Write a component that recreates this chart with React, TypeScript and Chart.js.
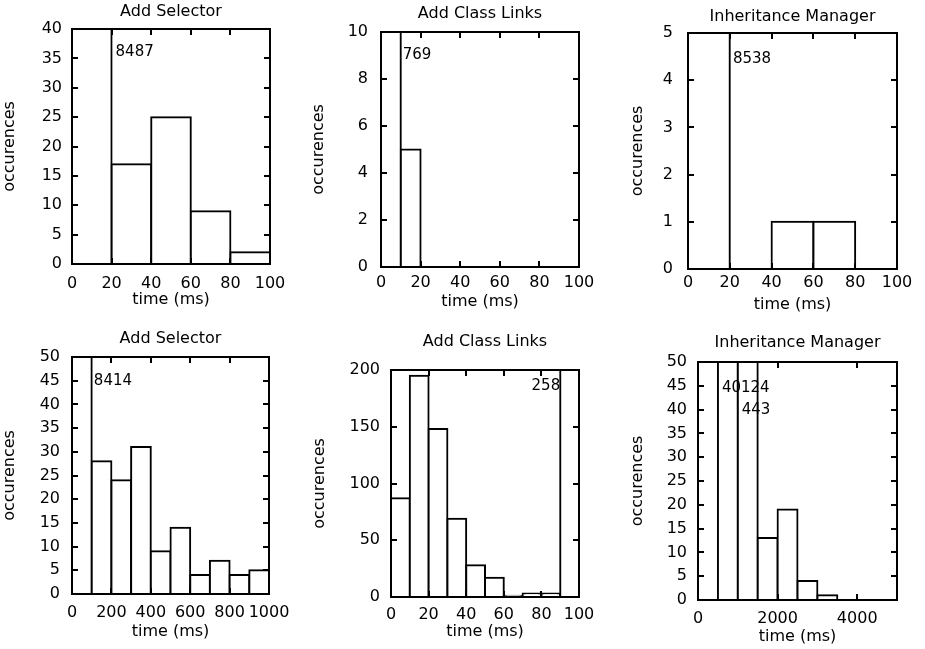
import React, { useEffect, useRef } from "react";
import { Chart, registerables } from "chart.js";

Chart.register(...registerables);

// ---------- DATA ----------
const panelTitles = [
  "Add Selector",
  "Add Class Links",
  "Inheritance Manager",
  "Add Selector",
  "Add Class Links",
  "Inheritance Manager",
];
const xAxisTitle = "time (ms)";
const yAxisTitle = "occurences";

// Top row (0-100 ms)
const selectorFastBins = [0, 20, 40, 60, 80];
const selectorFastCounts = [8487, 17, 25, 9, 2];
const classLinksFastBins = [0, 10, 20, 30, 40, 50, 60, 70, 80, 90];
const classLinksFastCounts = [769, 5, 0, 0, 0, 0, 0, 0, 0, 0];
const inheritFastBins = [0, 20, 40, 60, 80];
const inheritFastCounts = [8538, 0, 1, 1, 0];

// Bottom row
const selectorSlowBins = [0, 100, 200, 300, 400, 500, 600, 700, 800, 900];
const selectorSlowCounts = [8414, 28, 24, 31, 9, 14, 4, 7, 4, 5];
const classLinksSlowBins = [0, 10, 20, 30, 40, 50, 60, 70, 80, 90];
const classLinksSlowCounts = [87, 195, 148, 69, 28, 17, 1, 3, 3, 258];
const inheritSlowBins = [0, 500, 1000, 1500, 2000, 2500, 3000, 3500, 4000, 4500];
const inheritSlowCounts = [0, 40124, 443, 13, 19, 4, 1, 0, 0, 0];

// Axis ranges & ticks
const xTicks100 = [0, 20, 40, 60, 80, 100];
const xTicks1000 = [0, 200, 400, 600, 800, 1000];
const xTicks5000 = [0, 2000, 4000];
const xMaxes = [100, 100, 100, 1000, 100, 5000];
const yTicksSelFast = [0, 5, 10, 15, 20, 25, 30, 35, 40];
const yTicksLinksFast = [0, 2, 4, 6, 8, 10];
const yTicksInhFast = [0, 1, 2, 3, 4, 5];
const yTicksSelSlow = [0, 5, 10, 15, 20, 25, 30, 35, 40, 45, 50];
const yTicksLinksSlow = [0, 50, 100, 150, 200];
const yTicksInhSlow = [0, 5, 10, 15, 20, 25, 30, 35, 40, 45, 50];

// Off-scale count labels (text, x in data units, y in data units)
const labelTextsA = ["8487"];
const labelXA = [22];
const labelYA = [36];
const labelTextsB = ["769"];
const labelXB = [11];
const labelYB = [9];
const labelTextsC = ["8538"];
const labelXC = [21.5];
const labelYC = [4.45];
const labelTextsD = ["8414"];
const labelXD = [111];
const labelYD = [45];
const labelTextsE = ["258"];
const labelXE = [90];
const labelYE = [186];
const labelTextsF = ["40124", "443"];
const labelXF = [600, 1100];
const labelYF = [44.6, 39.9];

// ---------- LAYOUT (page pixels) ----------
const layouts = [
  { box: { x: 0, y: 0, w: 300, h: 320 }, plot: { l: 72, t: 29, r: 270, b: 264 }, titleY: 12, tickY: 284, xTitleY: 300, yTitleX: 10, yGap: 10, labelAlign: "left" },
  { box: { x: 300, y: 0, w: 310, h: 320 }, plot: { l: 381, t: 32, r: 579, b: 267 }, titleY: 14, tickY: 283, xTitleY: 302, yTitleX: 319, yGap: 13, labelAlign: "left" },
  { box: { x: 610, y: 0, w: 315, h: 320 }, plot: { l: 688, t: 33, r: 897, b: 269 }, titleY: 17, tickY: 283, xTitleY: 305, yTitleX: 638, yGap: 15, labelAlign: "left" },
  { box: { x: 0, y: 320, w: 300, h: 329 }, plot: { l: 72, t: 357, r: 269, b: 594 }, titleY: 339, tickY: 613, xTitleY: 632, yTitleX: 10, yGap: 12, labelAlign: "left" },
  { box: { x: 300, y: 320, w: 310, h: 329 }, plot: { l: 391, t: 370, r: 579, b: 597 }, titleY: 342, tickY: 615, xTitleY: 632, yTitleX: 320, yGap: 11, labelAlign: "right" },
  { box: { x: 610, y: 320, w: 315, h: 329 }, plot: { l: 698, t: 362, r: 897, b: 600 }, titleY: 343, tickY: 619, xTitleY: 637, yTitleX: 638, yGap: 11, labelAlign: "left" },
];

const FONT = "'DejaVu Sans', 'Liberation Sans', Arial, sans-serif";
const TITLE_SIZE = 16;
const TICK_SIZE = 16;
const LABEL_SIZE = 15;

const panels = [
  { bins: selectorFastBins, counts: selectorFastCounts, xTicks: xTicks100, yTicks: yTicksSelFast, texts: labelTextsA, lx: labelXA, ly: labelYA },
  { bins: classLinksFastBins, counts: classLinksFastCounts, xTicks: xTicks100, yTicks: yTicksLinksFast, texts: labelTextsB, lx: labelXB, ly: labelYB },
  { bins: inheritFastBins, counts: inheritFastCounts, xTicks: xTicks100, yTicks: yTicksInhFast, texts: labelTextsC, lx: labelXC, ly: labelYC },
  { bins: selectorSlowBins, counts: selectorSlowCounts, xTicks: xTicks1000, yTicks: yTicksSelSlow, texts: labelTextsD, lx: labelXD, ly: labelYD },
  { bins: classLinksSlowBins, counts: classLinksSlowCounts, xTicks: xTicks100, yTicks: yTicksLinksSlow, texts: labelTextsE, lx: labelXE, ly: labelYE },
  { bins: inheritSlowBins, counts: inheritSlowCounts, xTicks: xTicks5000, yTicks: yTicksInhSlow, texts: labelTextsF, lx: labelXF, ly: labelYF },
];

const framePlugin = {
  id: "gnuFrame",
  afterDatasetsDraw(chart: any) {
    const { ctx, chartArea: a, scales } = chart;
    const x = scales.x;
    const y = scales.y;
    ctx.save();
    ctx.strokeStyle = "#000";
    ctx.lineWidth = 2;
    ctx.strokeRect(a.left, a.top, a.right - a.left, a.bottom - a.top);
    const L = 6;
    ctx.beginPath();
    x.ticks.forEach((t: any) => {
      if (t.value <= x.min || t.value >= x.max) return;
      const px = Math.round(x.getPixelForValue(t.value));
      ctx.moveTo(px, a.bottom);
      ctx.lineTo(px, a.bottom - L);
      ctx.moveTo(px, a.top);
      ctx.lineTo(px, a.top + L);
    });
    y.ticks.forEach((t: any) => {
      if (t.value <= y.min || t.value >= y.max) return;
      const py = Math.round(y.getPixelForValue(t.value));
      ctx.moveTo(a.left, py);
      ctx.lineTo(a.left + L, py);
      ctx.moveTo(a.right, py);
      ctx.lineTo(a.right - L, py);
    });
    ctx.stroke();
    ctx.restore();
  },
};

function makeLabelPlugin(p: any, align: string) {
  return {
    id: "countLabels",
    afterDraw(chart: any) {
      const { ctx, scales } = chart;
      ctx.save();
      ctx.fillStyle = "#000";
      ctx.font = `${LABEL_SIZE}px ${FONT}`;
      ctx.textBaseline = "middle";
      ctx.textAlign = align;
      p.texts.forEach((t: string, i: number) => {
        ctx.fillText(t, scales.x.getPixelForValue(p.lx[i]), scales.y.getPixelForValue(p.ly[i]));
      });
      ctx.restore();
    },
  };
}

const plainNumber = (v: any) => String(v);

function makeConfig(i: number) {
  const p = panels[i];
  const L = layouts[i];
  const binW = p.bins[1] - p.bins[0];
  const titleLH = TITLE_SIZE * 1.2;
  const tickLH = TICK_SIZE * 1.2;
  const bottomEdge = L.box.y + L.box.h;
  return {
    type: "bar",
    data: {
      datasets: [
        {
          data: p.bins.map((b: number, k: number) => ({ x: b + binW / 2, y: p.counts[k] })),
          backgroundColor: "#ffffff",
          borderColor: "#000000",
          borderWidth: 2,
          inflateAmount: 1,
          borderSkipped: false,
          barPercentage: 1,
          categoryPercentage: 1,
          clip: 0,
        },
      ],
    },
    options: {
      responsive: false,
      animation: false,
      devicePixelRatio: 1,
      layout: {
        padding: { left: 0, top: 0, bottom: 0, right: L.box.x + L.box.w - L.plot.r },
      },
      plugins: {
        legend: { display: false },
        tooltip: { enabled: false },
        title: {
          display: true,
          text: panelTitles[i],
          fullSize: false,
          color: "#000",
          font: { family: FONT, size: TITLE_SIZE, weight: "normal", lineHeight: 1.2 },
          padding: {
            top: L.titleY - L.box.y - titleLH / 2,
            bottom: L.plot.t - L.titleY - titleLH / 2,
          },
        },
      },
      scales: {
        x: {
          type: "linear",
          min: 0,
          max: xMaxes[i],
          offset: false,
          grid: { display: false, drawTicks: false, offset: false },
          border: { display: false },
          ticks: {
            color: "#000",
            font: { family: FONT, size: TICK_SIZE, lineHeight: 1.2 },
            padding: L.tickY - L.plot.b - tickLH / 2,
            maxRotation: 0,
            minRotation: 0,
            autoSkip: false,
            callback: plainNumber,
          },
          afterBuildTicks: (s: any) => {
            s.ticks = p.xTicks.map((v: number) => ({ value: v }));
          },
          afterFit: (s: any) => {
            s.height = bottomEdge - L.plot.b;
            s.paddingLeft = 0;
            s.paddingRight = 0;
          },
          title: {
            display: true,
            text: xAxisTitle,
            color: "#000",
            font: { family: FONT, size: TITLE_SIZE, lineHeight: 1.2 },
            padding: { top: 0, bottom: bottomEdge - L.xTitleY - titleLH / 2 },
          },
        },
        y: {
          type: "linear",
          min: 0,
          max: p.yTicks[p.yTicks.length - 1],
          grid: { display: false, drawTicks: false },
          border: { display: false },
          ticks: {
            color: "#000",
            font: { family: FONT, size: TICK_SIZE, lineHeight: 1.2 },
            padding: L.yGap,
            autoSkip: false,
            callback: plainNumber,
          },
          afterBuildTicks: (s: any) => {
            s.ticks = p.yTicks.map((v: number) => ({ value: v }));
          },
          afterFit: (s: any) => {
            s.width = L.plot.l - L.box.x;
            s.paddingTop = 0;
            s.paddingBottom = 0;
          },
          title: {
            display: true,
            text: yAxisTitle,
            color: "#000",
            font: { family: FONT, size: TITLE_SIZE, lineHeight: 1.2 },
            padding: { top: L.yTitleX - L.box.x - titleLH / 2, bottom: 0 },
          },
        },
      },
    },
    plugins: [framePlugin, makeLabelPlugin(p, L.labelAlign)],
  } as any;
}

export default function App() {
  const refs = useRef<(HTMLCanvasElement | null)[]>([]);

  useEffect(() => {
    const charts: Chart[] = [];
    refs.current.forEach((c, i) => {
      if (c) charts.push(new Chart(c, makeConfig(i)));
    });
    return () => charts.forEach((ch) => ch.destroy());
  }, []);

  return (
    <div
      style={{
        position: "absolute",
        left: 0,
        top: 0,
        width: 925,
        height: 649,
        background: "#ffffff",
        overflow: "hidden",
      }}
    >
      {layouts.map((L, i) => (
        <canvas
          key={i}
          ref={(el) => {
            refs.current[i] = el;
          }}
          width={L.box.w}
          height={L.box.h}
          style={{
            position: "absolute",
            left: L.box.x,
            top: L.box.y,
            width: L.box.w,
            height: L.box.h,
          }}
        />
      ))}
    </div>
  );
}
